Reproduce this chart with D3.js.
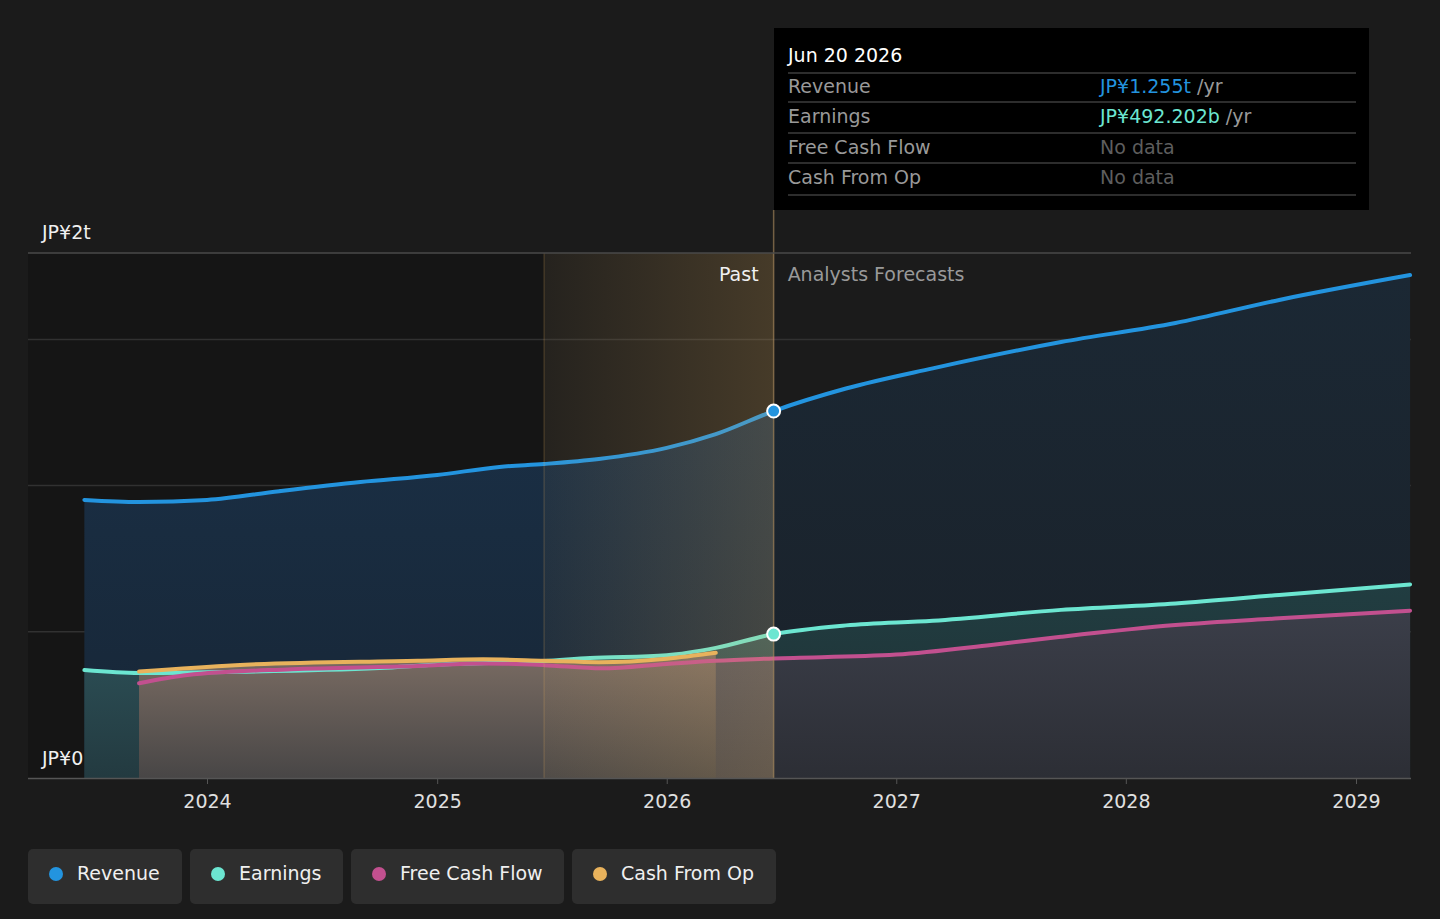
<!DOCTYPE html>
<html lang="en">
<head>
<meta charset="UTF-8">
<title>Revenue and earnings forecast</title>
<script src="https://cdn.jsdelivr.net/npm/d3@7"></script>
<style>
  body { margin: 0; background: #1b1b1b; }
  svg { display: block; font-family: "DejaVu Sans", sans-serif; }
</style>
</head>
<body>
<div id="chart"></div>
<script>
// values in JP¥ trillions
const revenueDates = ["2023-06-20","2023-09-15","2024-01-01","2024-04-25","2024-09-01","2025-01-01","2025-04-10","2025-06-20","2025-09-15","2026-01-01","2026-03-20","2026-06-20","2026-10-13","2027-02-28","2027-09-20","2028-03-20","2028-09-01","2029-03-28"]
const revenue = [0.951,0.944,0.951,0.981,1.012,1.036,1.064,1.074,1.091,1.129,1.176,1.255,1.332,1.401,1.491,1.556,1.635,1.720]

const earningsDates = ["2023-06-20","2023-09-15","2024-01-01","2024-10-01","2025-01-01","2025-06-20","2025-09-01","2026-01-01","2026-03-20","2026-06-20","2026-10-13","2027-02-28","2027-09-20","2028-03-20","2028-09-01","2029-03-28"]
const earnings = [0.369,0.359,0.362,0.376,0.388,0.400,0.410,0.420,0.445,0.4922,0.522,0.538,0.575,0.597,0.626,0.662]

const fcfDates = ["2023-09-15","2023-12-01","2024-05-15","2024-12-01","2025-03-15","2025-06-20","2025-09-20","2026-01-01","2026-03-20","2026-06-20","2027-01-01","2027-06-01","2027-09-20","2028-03-20","2028-09-01","2029-03-28"]
const fcf = [0.324,0.352,0.372,0.383,0.392,0.386,0.375,0.390,0.401,0.409,0.422,0.455,0.483,0.523,0.546,0.572]

const cfoDates = ["2023-09-15","2024-02-15","2024-12-01","2025-03-15","2025-06-20","2025-09-15","2026-01-01","2026-03-20"]
const cfo = [0.364,0.386,0.401,0.406,0.401,0.396,0.408,0.428]

const xTicks = ["2024","2025","2026","2027","2028","2029"]
const yMax = 1.7955
const yGrid = [0.5, 1, 1.5]
const yLabels = ["JP¥0", "JP¥2t"]
const nowDate = "2026-06-20"
const pastStart = "2025-06-20"

const legendNames = ["Revenue", "Earnings", "Free Cash Flow", "Cash From Op"]
const colors = ["#2394df", "#6ce6d1", "#c2508f", "#e8b25c"]

const width = 1440
const height = 919
const plotLeft = 28
const plotRight = 1411
const plotTop = 253
const plotBottom = 778
const fs = 19

const parse = d3.timeParse("%Y-%m-%d")
const x = d3.scaleTime()
    .domain([parse("2024-01-01"), parse("2029-01-01")])
    .range([207, 1356])
const y = d3.scaleLinear().domain([0, yMax]).range([plotBottom, plotTop])

const series = (dates, vals) => dates.map((d, i) => ({date: parse(d), v: vals[i]}))
const revData = series(revenueDates, revenue)
const earnData = series(earningsDates, earnings)
const fcfData = series(fcfDates, fcf)
const cfoData = series(cfoDates, cfo)
const now = parse(nowDate)

const svg = d3.select("#chart").append("svg")
    .attr("width", width)
    .attr("height", height)

const defs = svg.append("defs")
const vGrad = (id, c1, c2) => {
    const g = defs.append("linearGradient").attr("id", id)
        .attr("x1", 0).attr("y1", 0).attr("x2", 0).attr("y2", 1)
    g.append("stop").attr("offset", "0%").attr("stop-color", c1)
    g.append("stop").attr("offset", "100%").attr("stop-color", c2)
}
vGrad("revPast", "#1a2f45", "#172636")
vGrad("revFut", "#1b2834", "#1a2129")
vGrad("earnPast", "#2d5158", "#233a40")
vGrad("earnFut", "#213d41", "#1f3034")
vGrad("fcfPast", "#52525c", "#424248")
vGrad("fcfFut", "#3b3e49", "#2c2e35")
vGrad("cfoFill", "#7a6c63", "#484646")

const hl = defs.append("linearGradient").attr("id", "highlight")
    .attr("x1", 0).attr("y1", 0).attr("x2", 1).attr("y2", 0)
hl.append("stop").attr("offset", "0%").attr("stop-color", "#e8b25c").attr("stop-opacity", 0.05)
hl.append("stop").attr("offset", "100%").attr("stop-color", "#e8b25c").attr("stop-opacity", 0.21)

// darker past background
svg.append("rect")
    .attr("x", plotLeft).attr("y", plotTop)
    .attr("width", x(parse(pastStart)) - plotLeft).attr("height", plotBottom - plotTop)
    .attr("fill", "#000").attr("opacity", 0.2)

// grid
svg.append("g").selectAll("line")
    .data(yGrid)
    .enter().append("line")
    .attr("x1", plotLeft).attr("x2", plotRight)
    .attr("y1", d => y(d)).attr("y2", d => y(d))
    .attr("stroke", "#313131").attr("stroke-width", 1.5)

const area = d3.area().curve(d3.curveMonotoneX)
    .x(d => x(d.date)).y0(plotBottom).y1(d => y(d.v))
const line = d3.line().curve(d3.curveMonotoneX)
    .x(d => x(d.date)).y(d => y(d.v))

const past = data => data.filter(d => d.date <= now)
const future = data => data.filter(d => d.date >= now)

svg.append("path").datum(past(revData)).attr("d", area).attr("fill", "url(#revPast)")
svg.append("path").datum(future(revData)).attr("d", area).attr("fill", "url(#revFut)")
svg.append("path").datum(past(earnData)).attr("d", area).attr("fill", "url(#earnPast)")
svg.append("path").datum(future(earnData)).attr("d", area).attr("fill", "url(#earnFut)")
svg.append("path").datum(past(fcfData)).attr("d", area).attr("fill", "url(#fcfPast)")
svg.append("path").datum(future(fcfData)).attr("d", area).attr("fill", "url(#fcfFut)")
svg.append("path").datum(cfoData).attr("d", area).attr("fill", "url(#cfoFill)")

const lines = [earnData, fcfData, cfoData, revData]
const lineColors = [colors[1], colors[2], colors[3], colors[0]]
lines.forEach((data, i) => {
    svg.append("path").datum(data)
        .attr("d", line)
        .attr("fill", "none")
        .attr("stroke", lineColors[i])
        .attr("stroke-width", 4)
        .attr("stroke-linecap", "round")
})

// last year highlight
svg.append("rect")
    .attr("x", x(parse(pastStart))).attr("y", plotTop)
    .attr("width", x(now) - x(parse(pastStart))).attr("height", plotBottom - plotTop)
    .attr("fill", "url(#highlight)")
svg.append("line")
    .attr("x1", x(parse(pastStart))).attr("x2", x(parse(pastStart)))
    .attr("y1", plotTop).attr("y2", plotBottom)
    .attr("stroke", "#e8b25c").attr("stroke-opacity", 0.18).attr("stroke-width", 1.5)
svg.append("line")
    .attr("x1", x(now)).attr("x2", x(now))
    .attr("y1", 210).attr("y2", plotBottom)
    .attr("stroke", "#b09060").attr("stroke-opacity", 0.6).attr("stroke-width", 1.5)

// top line and axis
svg.append("line")
    .attr("x1", plotLeft).attr("x2", plotRight)
    .attr("y1", y(yMax)).attr("y2", y(yMax))
    .attr("stroke", "#4a4a4a").attr("stroke-width", 1.5)

const xAxis = svg.append("g")
    .attr("transform", `translate(0,${plotBottom})`)
    .call(d3.axisBottom(x)
        .tickValues(xTicks.map(t => parse(t + "-01-01")))
        .tickFormat(d3.timeFormat("%Y"))
        .tickSize(6)
        .tickPadding(11))
xAxis.select(".domain").attr("d", `M${plotLeft},0.5H${plotRight}`).attr("stroke", "#555").attr("stroke-width", 1.5)
xAxis.selectAll(".tick line").attr("stroke", "#555")
xAxis.selectAll(".tick text")
    .attr("fill", "#e0e0e0")
    .attr("font-size", fs)
    .attr("font-family", "DejaVu Sans, sans-serif")

svg.append("text").attr("x", 42).attr("y", 239)
    .attr("fill", "#f0f0f0").attr("font-size", fs).text(yLabels[1])
svg.append("text").attr("x", 42).attr("y", 765)
    .attr("fill", "#f0f0f0").attr("font-size", fs).text(yLabels[0])

svg.append("text").attr("x", x(now) - 15).attr("y", 281)
    .attr("text-anchor", "end").attr("fill", "#f0f0f0").attr("font-size", fs).text("Past")
svg.append("text").attr("x", x(now) + 14).attr("y", 281)
    .attr("fill", "#999").attr("font-size", fs).text("Analysts Forecasts")

// dots at now
const dotAt = (data, c) => {
    const d = data.find(p => +p.date === +now)
    svg.append("circle")
        .attr("cx", x(d.date)).attr("cy", y(d.v)).attr("r", 6.5)
        .attr("fill", c).attr("stroke", "#fff").attr("stroke-width", 2)
}
dotAt(revData, colors[0])
dotAt(earnData, colors[1])

// tooltip
const tip = svg.append("g")
tip.append("rect").attr("x", 774).attr("y", 28).attr("width", 595).attr("height", 182).attr("fill", "#000")
tip.append("text").attr("x", 788).attr("y", 62).attr("fill", "#fff").attr("font-size", fs)
    .text(d3.timeFormat("%b %d %Y")(now))
const rowY = [93, 123, 154, 184]
const sepY = [73, 102, 133, 163, 195]
tip.selectAll(".sep").data(sepY).enter().append("line")
    .attr("x1", 788).attr("x2", 1356).attr("y1", d => d).attr("y2", d => d)
    .attr("stroke", "#3d3d3d").attr("stroke-width", 1.5)
const tipValues = [
    [{t: "JP¥1.255t", c: colors[0]}, {t: " /yr", c: "#999"}],
    [{t: "JP¥492.202b", c: colors[1]}, {t: " /yr", c: "#999"}],
    [{t: "No data", c: "#5e5e5e"}],
    [{t: "No data", c: "#5e5e5e"}]
]
legendNames.forEach((n, i) => {
    tip.append("text").attr("x", 788).attr("y", rowY[i]).attr("fill", "#999").attr("font-size", fs).text(n)
    const t = tip.append("text").attr("x", 1100).attr("y", rowY[i]).attr("font-size", fs)
    tipValues[i].forEach(p => t.append("tspan").attr("fill", p.c).text(p.t))
})

// legend
const legendX = [28, 190, 351, 572]
const legendW = [154, 153, 213, 204]
const lg = svg.append("g")
legendNames.forEach((n, i) => {
    const g = lg.append("g").attr("transform", `translate(${legendX[i]},849)`)
    g.append("rect").attr("width", legendW[i]).attr("height", 55).attr("rx", 5).attr("fill", "#2e2e2e")
    g.append("circle").attr("cx", 28).attr("cy", 25).attr("r", 7).attr("fill", colors[i])
    g.append("text").attr("x", 49).attr("y", 31).attr("fill", "#f0f0f0").attr("font-size", fs).text(n)
})
</script>
</body>
</html>
